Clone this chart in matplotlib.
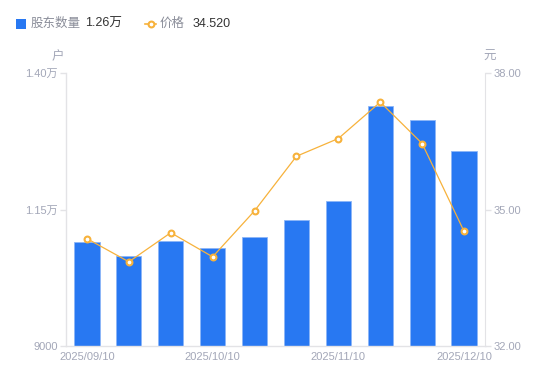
import matplotlib
matplotlib.use("Agg")
import matplotlib.pyplot as plt
from matplotlib.lines import Line2D
from matplotlib.patches import Rectangle

plt.rcParams['font.family'] = ['Liberation Sans', 'Noto Sans CJK SC', 'DejaVu Sans']

dates = ["2025/09/10", "2025/09/20", "2025/09/30", "2025/10/10", "2025/10/20",
         "2025/10/31", "2025/11/10", "2025/11/20", "2025/11/30", "2025/12/10"]
holders = [10910, 10650, 10920, 10790, 11000, 11310, 11660, 13400, 13140, 12580]
prices = [34.36, 33.85, 34.49, 33.96, 34.97, 36.17, 36.56, 37.36, 36.45, 34.52]
left_ticks = [9000, 11500, 14000]
left_labels = ["9000", "1.15万", "1.40万"]
right_ticks = [32, 35, 38]
right_labels = ["32.00", "35.00", "38.00"]
xtick_idx = [0, 3, 6, 9]

BLUE = "#2878F2"
ORANGE = "#F7B23B"
GRAY = "#A3A7B8"
AXIS = "#E3E3E6"

fig = plt.figure(figsize=(5.5, 3.81), dpi=100)
ax = fig.add_axes([66/550, 35/381, (485-66)/550, (346-73)/381])
x = list(range(len(dates)))
ax.bar(x, holders, width=0.6, color=BLUE, edgecolor="#8DB6F7", linewidth=0.6, zorder=2)
ax.set_xlim(-0.5, len(dates) - 0.5)
ax.set_ylim(9000, 14000)
ax.set_yticks(left_ticks)
ax.set_yticklabels(left_labels)
ax.set_xticks(xtick_idx)
ax.set_xticklabels([dates[i] for i in xtick_idx])
for s in ["top", "right"]:
    ax.spines[s].set_visible(False)
for s in ["left", "bottom"]:
    ax.spines[s].set_color(AXIS)
    ax.spines[s].set_linewidth(1)
ax.tick_params(axis="y", colors=AXIS, labelcolor=GRAY, labelsize=8, length=4, width=1, pad=2)
ax.tick_params(axis="x", length=0, labelcolor=GRAY, labelsize=8, pad=4)

ax2 = ax.twinx()
ax2.plot(x, prices, color=ORANGE, linewidth=0.9, marker="o", markersize=4.2,
         markerfacecolor="white", markeredgecolor=ORANGE, markeredgewidth=1.5, zorder=3)
ax2.set_ylim(32, 38)
ax2.set_yticks(right_ticks)
ax2.set_yticklabels(right_labels)
for s in ["top", "left", "bottom"]:
    ax2.spines[s].set_visible(False)
ax2.spines["right"].set_color(AXIS)
ax2.tick_params(axis="y", colors=AXIS, labelcolor=GRAY, labelsize=8, length=4, width=1, pad=2)

fig.text(58/550, 1 - 57/381, "户", color=GRAY, fontsize=9, ha="center", va="center")
fig.text(490/550, 1 - 57/381, "元", color=GRAY, fontsize=9, ha="center", va="center")

# legend
fig.patches.append(Rectangle((16/550, 1 - 29/381), 10/550, 10/381, transform=fig.transFigure,
                             facecolor=BLUE, edgecolor="none"))
fig.text(31/550, 1 - 24/381, "股东数量", color="#8A8D99", fontsize=9, va="center")
fig.text(85/550, 1 - 24/381, "1.26万", color="#333333", fontsize=9, va="center")
fig.lines.append(Line2D([145/550, 156/550], [1 - 24/381, 1 - 24/381], transform=fig.transFigure,
                        color=ORANGE, linewidth=1.2))
fig.lines.append(Line2D([150.5/550], [1 - 24/381], transform=fig.transFigure,
                        color=ORANGE, marker="o", markersize=4.2, markerfacecolor="white",
                        markeredgecolor=ORANGE, markeredgewidth=1.5, linestyle="none"))
fig.text(160/550, 1 - 24/381, "价格", color="#8A8D99", fontsize=9, va="center")
fig.text(193/550, 1 - 24/381, "34.520", color="#333333", fontsize=9, va="center")

fig.savefig("out.png", dpi=100)
